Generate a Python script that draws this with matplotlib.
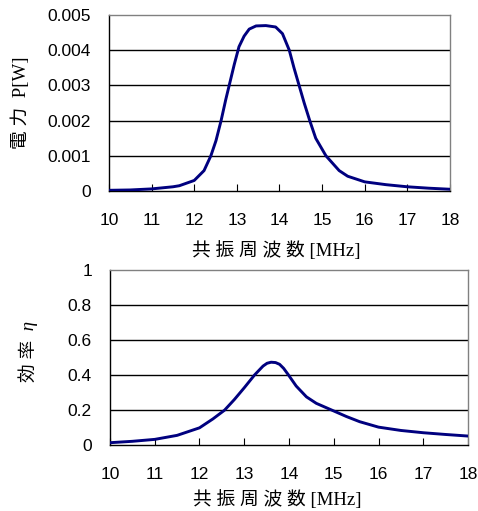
import matplotlib
matplotlib.use("Agg")
import matplotlib.pyplot as plt

freq_p = [10, 10.5, 11, 11.5, 11.65, 12.0, 12.23, 12.39, 12.51, 12.63, 12.74,
          12.82, 12.94, 13.05, 13.17, 13.29, 13.45, 13.68, 13.91, 14.07, 14.23,
          14.34, 14.46, 14.58, 14.71, 14.85, 15.09, 15.4, 15.6, 16, 16.5, 17,
          17.5, 18]
power = [0.00002, 0.00003, 0.00006, 0.00012, 0.00015, 0.0003, 0.00058, 0.001,
         0.00143, 0.002, 0.0026, 0.003, 0.0036, 0.0041, 0.0044, 0.0046,
         0.00469, 0.0047, 0.00466, 0.00447, 0.004, 0.0035, 0.003, 0.0025,
         0.002, 0.0015, 0.001, 0.00058, 0.00042, 0.00026, 0.00018, 0.00012,
         0.00008, 0.00005]

freq_e = [10, 10.5, 11, 11.5, 12.0, 12.3, 12.56, 12.78, 13.0, 13.23, 13.42,
          13.51, 13.6, 13.7, 13.79, 13.88, 13.98, 14.16, 14.39, 14.61, 14.95,
          15.28, 15.58, 16, 16.5, 17, 17.5, 18]
eff = [0.013, 0.021, 0.032, 0.055, 0.098, 0.149, 0.199, 0.26, 0.327, 0.40,
       0.451, 0.467, 0.473, 0.471, 0.461, 0.438, 0.403, 0.337, 0.275, 0.238,
       0.2, 0.163, 0.133, 0.102, 0.083, 0.07, 0.06, 0.051]

x_ticks = list(range(10, 19))
p_ticks = [0, 0.001, 0.002, 0.003, 0.004, 0.005]
p_labels = ["0", "0.001", "0.002", "0.003", "0.004", "0.005"]
e_ticks = [0, 0.2, 0.4, 0.6, 0.8, 1.0]
e_labels = ["0", "0.2", "0.4", "0.6", "0.8", "1"]

xlabel = "共 振 周 波 数 [MHz]"
ylabel_p = "電 力  P[W]"
ylabel_e = "効 率  η"

label_font = ["Liberation Serif", "Noto Sans CJK JP"]
tick_font = "Liberation Sans"
line_c = "#00007f"

fig = plt.figure(figsize=(4.78, 5.11), dpi=100)
ax1 = fig.add_axes([0.228, 0.6262, 0.7134, 0.3444])
ax2 = fig.add_axes([0.2301, 0.1292, 0.749, 0.3424])


def style(ax, yticks, ylabels, ylim):
    ax.set_xlim(10, 18)
    ax.set_ylim(*ylim)
    ax.set_xticks(x_ticks)
    ax.set_xticklabels([str(t) for t in x_ticks], fontfamily=tick_font, fontsize=12.5)
    ax.set_yticks(yticks)
    ax.set_yticklabels(ylabels, fontfamily=tick_font, fontsize=12.5)
    ax.tick_params(axis="x", direction="in", length=5, width=0.8, pad=16)
    ax.tick_params(axis="y", length=0, pad=13)
    for y in yticks[1:-1]:
        ax.axhline(y, color="black", lw=1.0, zorder=1)
    ax.spines["left"].set_color("black")
    ax.spines["bottom"].set_color("black")
    ax.spines["top"].set_color("#808080")
    ax.spines["right"].set_color("#808080")
    for s in ax.spines.values():
        s.set_linewidth(1.0)


style(ax1, p_ticks, p_labels, (0, 0.005))
ax1.plot(freq_p, power, color=line_c, lw=2.1, zorder=3, solid_joinstyle="round")
ax1.set_xlabel(xlabel, fontfamily=label_font, fontsize=13.5)
ax1.xaxis.set_label_coords(0.49, -0.285)
ax1.set_ylabel(ylabel_p, fontfamily=label_font, fontsize=13.5)
ax1.yaxis.set_label_coords(-0.232, 0.5)

style(ax2, e_ticks, e_labels, (0, 1))
ax2.plot(freq_e, eff, color=line_c, lw=2.1, zorder=3, solid_joinstyle="round")
ax2.set_xlabel(xlabel, fontfamily=label_font, fontsize=13.5)
ax2.xaxis.set_label_coords(0.466, -0.26)
ax2.set_ylabel(ylabel_e, fontfamily=label_font, fontsize=13.5, style="italic")
ax2.yaxis.set_label_coords(-0.201, 0.537)

fig.savefig("out.png", dpi=100)
